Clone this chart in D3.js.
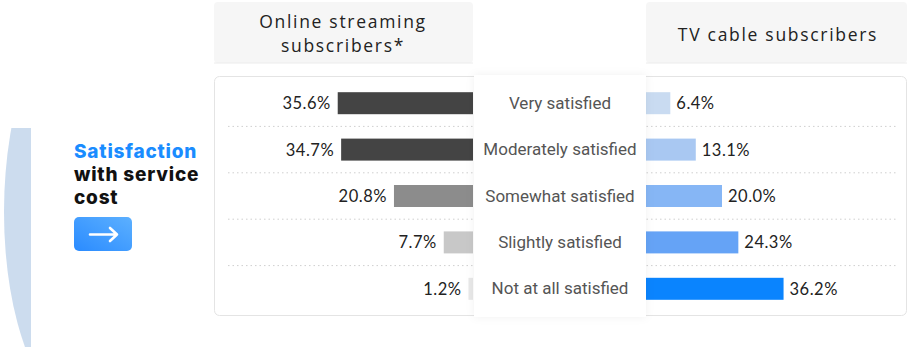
<html>
<head>
<style>
  body { margin: 0; background: #fff; }
  .val { font-family: Lato, sans-serif; font-size: 16.5px; letter-spacing: 0.5px; fill: #222; }
  .cat { font-family: Roboto, sans-serif; font-size: 17px; fill: #555; }
  .head { font-family: "Open Sans", sans-serif; font-size: 17.5px; letter-spacing: 1.7px; fill: #222; }
  .title { font-family: Inter, sans-serif; font-weight: 800; font-size: 19px; letter-spacing: 0.8px; }
</style>
</head>
<body>
<svg width="908" height="347"></svg>
<script src="https://cdn.jsdelivr.net/npm/d3@7"></script>
<script>

var categories = ["Very satisfied", "Moderately satisfied", "Somewhat satisfied", "Slightly satisfied", "Not at all satisfied"];
var streaming = [35.6, 34.7, 20.8, 7.7, 1.2];
var cable = [6.4, 13.1, 20.0, 24.3, 36.2];
var streamColors = ["#444444", "#444444", "#8c8c8c", "#c8c8c8", "#e8e8e8"];
var cableColors = ["#c9dbf1", "#a9c8f2", "#86b6f5", "#65a3f6", "#0a84fe"];

var svg = d3.select("svg");
var defs = svg.append("defs");

var grad = defs.append("linearGradient").attr("id", "btn").attr("x1", 0).attr("x2", 1).attr("y1", 1).attr("y2", 0);
grad.append("stop").attr("offset", "0%").attr("stop-color", "#2a8bff");
grad.append("stop").attr("offset", "100%").attr("stop-color", "#5cb0ff");

var sh = defs.append("filter").attr("id", "shadow").attr("x", "-20%").attr("y", "-10%").attr("width", "140%").attr("height", "120%");
sh.append("feDropShadow").attr("dx", 0).attr("dy", 0).attr("stdDeviation", 4)
  .attr("flood-color", "#000").attr("flood-opacity", 0.06);

defs.append("clipPath").attr("id", "arcclip").append("rect")
  .attr("x", 0).attr("y", 128).attr("width", 31).attr("height", 219);

// decorative arc on the left
svg.append("ellipse")
  .attr("clip-path", "url(#arcclip)")
  .attr("cx", 84).attr("cy", 212).attr("rx", 80).attr("ry", 200)
  .attr("fill", "#ccdcee");

// title block
var t = svg.append("text").attr("class", "title").attr("x", 74);
t.append("tspan").attr("x", 74).attr("y", 158).attr("fill", "#1a8cff").text("Satisfaction");
t.append("tspan").attr("x", 74).attr("y", 181).attr("fill", "#111").text("with service");
t.append("tspan").attr("x", 74).attr("y", 204).attr("fill", "#111").text("cost");

svg.append("rect").attr("x", 74).attr("y", 217).attr("width", 58).attr("height", 34)
  .attr("rx", 5).attr("fill", "url(#btn)");
svg.append("path").attr("d", "M90,234.5 H117 M110,228 L117,234.5 L110,241")
  .attr("fill", "none").attr("stroke", "#fff").attr("stroke-width", 2.6)
  .attr("stroke-linecap", "round").attr("stroke-linejoin", "round");

// header boxes
svg.append("rect").attr("x", 214).attr("y", 2).attr("width", 259).attr("height", 61).attr("rx", 4).attr("fill", "#f6f6f6");
svg.append("rect").attr("x", 646).attr("y", 2).attr("width", 261).attr("height", 61).attr("rx", 4).attr("fill", "#f6f6f6");
svg.append("line").attr("x1", 214).attr("x2", 473).attr("y1", 63).attr("y2", 63).attr("stroke", "#ececec");
svg.append("line").attr("x1", 646).attr("x2", 907).attr("y1", 63).attr("y2", 63).attr("stroke", "#ececec");

var h1 = svg.append("text").attr("class", "head").attr("text-anchor", "middle");
h1.append("tspan").attr("x", 343).attr("y", 28.3).text("Online streaming");
h1.append("tspan").attr("x", 343).attr("y", 52.3).text("subscribers*");
svg.append("text").attr("class", "head").attr("text-anchor", "middle")
  .attr("x", 778).attr("y", 40.5).text("TV cable subscribers");

// main panel
svg.append("rect").attr("x", 214.5).attr("y", 76.5).attr("width", 692).attr("height", 239)
  .attr("rx", 5).attr("fill", "#fff").attr("stroke", "#e4e4e4");

var y = d3.scaleBand().domain(categories).range([80, 312]);
var xl = d3.scaleLinear().domain([0, 40]).range([473, 321]);
var xr = d3.scaleLinear().domain([0, 40]).range([646, 798]);
var barH = 22;

// dotted separators
svg.append("g").selectAll("line").data(categories.slice(1)).join("line")
  .attr("x1", 228).attr("x2", 897)
  .attr("y1", function(d) { return y(d); }).attr("y2", function(d) { return y(d); })
  .attr("stroke", "#cfcfcf").attr("stroke-dasharray", "1.5,3");

// left bars
var gl = svg.append("g");
gl.selectAll("rect").data(streaming).join("rect")
  .attr("x", function(d) { return xl(d); })
  .attr("y", function(d, i) { return y(categories[i]) + y.bandwidth() / 2 - barH / 2; })
  .attr("width", function(d) { return xl(0) - xl(d); })
  .attr("height", barH)
  .attr("fill", function(d, i) { return streamColors[i]; });
gl.selectAll("text").data(streaming).join("text")
  .attr("class", "val").attr("text-anchor", "end")
  .attr("x", function(d) { return xl(d) - 7; })
  .attr("y", function(d, i) { return y(categories[i]) + y.bandwidth() / 2 + 6; })
  .text(function(d) { return d.toFixed(1) + "%"; });

// right bars
var gr = svg.append("g");
gr.selectAll("rect").data(cable).join("rect")
  .attr("x", xr(0))
  .attr("y", function(d, i) { return y(categories[i]) + y.bandwidth() / 2 - barH / 2; })
  .attr("width", function(d) { return xr(d) - xr(0); })
  .attr("height", barH)
  .attr("fill", function(d, i) { return cableColors[i]; });
gr.selectAll("text").data(cable).join("text")
  .attr("class", "val")
  .attr("x", function(d) { return xr(d) + 6; })
  .attr("y", function(d, i) { return y(categories[i]) + y.bandwidth() / 2 + 6; })
  .text(function(d) { return d.toFixed(1) + "%"; });

// center column with category labels
svg.append("rect").attr("x", 474).attr("y", 75).attr("width", 172).attr("height", 242)
  .attr("fill", "#fff").attr("filter", "url(#shadow)");
svg.append("g").selectAll("text").data(categories).join("text")
  .attr("class", "cat").attr("text-anchor", "middle")
  .attr("x", 560)
  .attr("y", function(d) { return y(d) + y.bandwidth() / 2 + 5.5; })
  .text(function(d) { return d; });

</script>
</body>
</html>
